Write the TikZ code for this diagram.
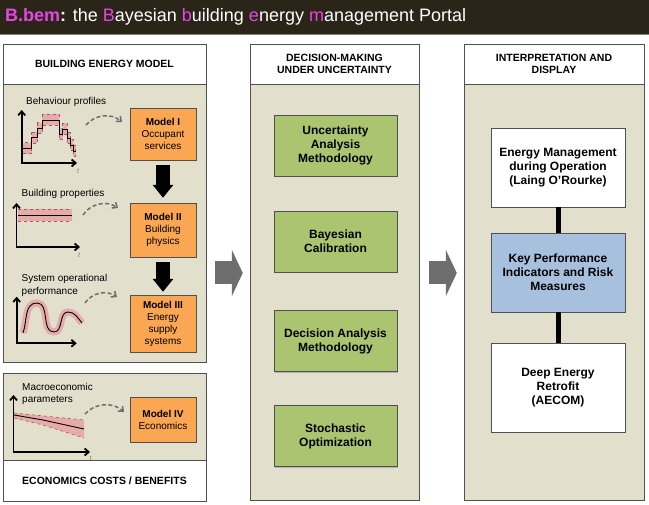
\documentclass[tikz,border=0pt]{standalone}
\usepackage{fontspec}
\setmainfont{Liberation Sans}
\usetikzlibrary{arrows.meta,shadows}

\definecolor{titlebg}{RGB}{42,37,24}
\definecolor{bemmag}{RGB}{230,70,225}
\definecolor{paneltan}{RGB}{226,223,205}
\definecolor{boxorange}{RGB}{250,166,82}
\definecolor{boxgreen}{RGB}{171,196,112}
\definecolor{boxblue}{RGB}{167,192,222}
\definecolor{bandpink}{RGB}{230,172,172}
\definecolor{banddash}{RGB}{175,90,90}
\definecolor{arrowgray}{RGB}{110,110,110}
\definecolor{edgegray}{RGB}{80,80,80}

\newcommand{\mg}[1]{\textcolor{bemmag}{#1}}

\tikzset{
  shadowed/.style={drop shadow={shadow xshift=1.2pt,shadow yshift=-1.2pt,fill=black!30,opacity=1}},
  panelhead/.style={draw=edgegray,fill=white,inner sep=0pt,align=center,shadowed,
    font=\fontsize{10.5}{12.5}\selectfont\bfseries},
  panelbody/.style={draw=edgegray,fill=paneltan,inner sep=0pt,shadowed},
  modelbox/.style={draw=edgegray,fill=boxorange,align=center,inner sep=0pt,shadowed,
    minimum width=66pt,font=\fontsize{10}{12}\selectfont},
  methodbox/.style={draw=edgegray,fill=boxgreen,align=center,inner sep=0pt,shadowed,
    minimum width=123pt,minimum height=61pt,font=\fontsize{12}{14}\selectfont\bfseries},
  displaybox/.style={draw=edgegray,fill=white,align=center,inner sep=0pt,shadowed,
    minimum width=134pt,font=\fontsize{12}{14}\selectfont\bfseries},
  plotlabel/.style={anchor=west,inner sep=0pt,align=left,font=\fontsize{10}{12.5}\selectfont},
  timelabel/.style={inner sep=0pt,text=gray,font=\fontsize{7}{8}\selectfont\itshape},
  axes/.style={line width=1.8pt,{Straight Barb[length=4pt,width=7pt]}-{Straight Barb[length=4pt,width=7pt]}},
  dasharrow/.style={draw=arrowgray,line width=1.5pt,dash pattern=on 4pt off 2.5pt,
    -{Straight Barb[length=4pt,width=7pt]}},
  blockarrow/.style={line width=14pt,-{Triangle[width=20pt,length=13pt]}},
  bigarrow/.style={draw=arrowgray,line width=23pt,-{Triangle[width=46pt,length=11pt]}},
  bandbox/.style={fill=bandpink,draw=banddash,dashed,line width=0.6pt},
}

\begin{document}
\begin{tikzpicture}[x=1pt,y=-1pt]
  \useasboundingbox (0,0) rectangle (649,505);

  % title bar
  \node[fill=titlebg,minimum width=649pt,minimum height=34pt,inner sep=0pt] (titlebar) at (324.5,17) {};
  \draw[gray,line width=1pt] (titlebar.south west) -- (titlebar.south east);
  \node[anchor=west,inner sep=0pt,text=white,font=\fontsize{18}{21}\selectfont] (titletext) at (5,17)
    {\mg{\textbf{B.bem}}\textbf{:} the \mg{B}ayesian \mg{b}uilding \mg{e}nergy \mg{m}anagement Portal};

  % panels
  \node[panelbody,minimum width=203pt,minimum height=278pt] (bem) at (104.5,223) {};
  \node[panelhead,minimum width=203pt,minimum height=40pt] (bemhead) at (104.5,64) {BUILDING ENERGY MODEL};
  \node[panelbody,minimum width=203pt,minimum height=87pt] (econ) at (104.5,416.5) {};
  \node[panelhead,minimum width=203pt,minimum height=41pt] (econfoot) at (104.5,480.5) {ECONOMICS COSTS / BENEFITS};
  \node[panelbody,minimum width=169pt,minimum height=416pt] (dec) at (334.5,292) {};
  \node[panelhead,minimum width=169pt,minimum height=40pt] (dechead) at (334.5,64) {DECISION-MAKING\\UNDER UNCERTAINTY};
  \node[panelbody,minimum width=180pt,minimum height=416pt] (disp) at (554,292) {};
  \node[panelhead,minimum width=180pt,minimum height=40pt] (disphead) at (554,64) {INTERPRETATION AND\\DISPLAY};

  % models
  \node[modelbox,minimum height=52pt] (m1) at (163,134) {\textbf{Model I}\\Occupant\\services};
  \node[modelbox,minimum height=54pt] (m2) at (163,230) {\textbf{Model II}\\Building\\physics};
  \node[modelbox,minimum height=57pt] (m3) at (163,323.5) {\textbf{Model III}\\Energy\\supply\\systems};
  \node[modelbox,minimum height=45pt] (m4) at (163,419.5) {\textbf{Model IV}\\Economics};

  \draw[blockarrow,shorten <=5pt,shorten >=5pt] (m1) -- (m2);
  \draw[blockarrow,shorten <=5pt,shorten >=3pt] (m2) -- (m3);

  % plot labels
  \node[plotlabel] (lab1) at (26,102) {Behaviour profiles};
  \node[plotlabel] (lab2) at (21.5,194) {Building properties};
  \node[plotlabel] (lab3) at (21.5,285.5) {System operational\\performance};
  \node[plotlabel] (lab4) at (22,394) {Macroeconomic\\parameters};

  % behaviour profiles
  \foreach \xa/\xb/\yy in {21.7/31.7/148.3,31.7/37.3/137.7,37.3/42.3/128.3,42.3/59/120,
      59/62.7/134.3,62.7/67.3/129,67.3/70/138.3,70/73.3/145,73.3/75.7/151}
    \draw[bandbox] (\xa,\yy-5.5) rectangle (\xb,\yy+5.5);
  \draw[line width=0.9pt] (21.7,148.3) -- (31.7,148.3) -- (31.7,137.7) -- (37.3,137.7) -- (37.3,128.3)
    -- (42.3,128.3) -- (42.3,120) -- (59,120) -- (59,134.3) -- (62.7,134.3) -- (62.7,129) -- (67.3,129)
    -- (67.3,138.3) -- (70,138.3) -- (70,145) -- (73.3,145) -- (73.3,151) -- (75.7,151);
  \draw[axes] (21.7,110) -- (21.7,163) -- (77,163);
  \node[timelabel] (t1) at (78,171) {t};

  % building properties
  \fill[bandpink] (18,209) rectangle (72,221);
  \draw[banddash,dashed,line width=0.6pt] (18,209) -- (72,209) (18,221) -- (72,221);
  \draw[line width=0.9pt] (18,215) -- (72,215);
  \draw[axes] (16.5,203) -- (16.5,247) -- (80,247);
  \node[timelabel] (t2) at (79,255) {t};

  % system operational performance
  \draw[bandpink,line width=7pt] (23,333) to[out=70,in=180] (37,303) to[out=0,in=180] (54,332)
    to[out=0,in=180] (68,312) to[out=0,in=130] (82,323);
  \draw[line width=0.9pt] (23,333) to[out=70,in=180] (37,303) to[out=0,in=180] (54,332)
    to[out=0,in=180] (68,312) to[out=0,in=130] (82,323);
  \draw[axes] (16.7,296.7) -- (16.7,343.3) -- (76.7,343.3);

  % macroeconomic parameters
  \fill[bandpink] (14,413) -- (84,420) -- (84,438) -- (43,425) -- (14,418) -- cycle;
  \draw[banddash,dashed,line width=0.6pt] (14,413) -- (84,420) (14,418) -- (43,425) -- (84,438);
  \draw[line width=0.9pt] (14,415) -- (43,420) -- (84,429);
  \draw[axes] (13.5,395) -- (13.5,452) -- (90,452);
  \node[timelabel] (t4) at (90.5,458) {t};

  % dashed links
  \coordinate (d1a) at (86,125);  \coordinate (d1b) at (122,122);
  \coordinate (d2a) at (83,215);  \coordinate (d2b) at (118,208);
  \coordinate (d3a) at (85,303);  \coordinate (d3b) at (117,297);
  \coordinate (d4a) at (85,414);  \coordinate (d4b) at (124,412);
  \foreach \s/\e in {d1a/d1b,d2a/d2b,d3a/d3b,d4a/d4b}
    \draw[dasharrow] (\s) to[bend left=45] (\e);

  % methods
  \node[methodbox] (unc) at (335.5,145.5) {Uncertainty\\Analysis\\Methodology};
  \node[methodbox] (cal) at (335.5,241.5) {Bayesian\\Calibration};
  \node[methodbox] (dam) at (335.5,341) {Decision Analysis\\Methodology};
  \node[methodbox] (opt) at (335.5,436) {Stochastic\\Optimization};

  % display
  \node[displaybox,minimum height=79pt] (ops) at (558,167.5) {Energy Management\\during Operation\\(Laing O’Rourke)};
  \node[displaybox,fill=boxblue,minimum height=79pt] (kpi) at (558,272.5) {Key Performance\\Indicators and Risk\\Measures};
  \node[displaybox,minimum height=89pt] (retro) at (558,387.5) {Deep Energy\\Retrofit\\(AECOM)};
  \draw[line width=5pt] (ops) -- (kpi);
  \draw[line width=5pt] (kpi) -- (retro);

  % panel arrows
  \draw[bigarrow,shorten <=9pt,shorten >=7pt] (bem.east |- 0,273) -- (dec.west |- 0,273);
  \draw[bigarrow,shorten <=10pt,shorten >=7pt] (dec.east |- 0,273) -- (disp.west |- 0,273);
\end{tikzpicture}
\end{document}
